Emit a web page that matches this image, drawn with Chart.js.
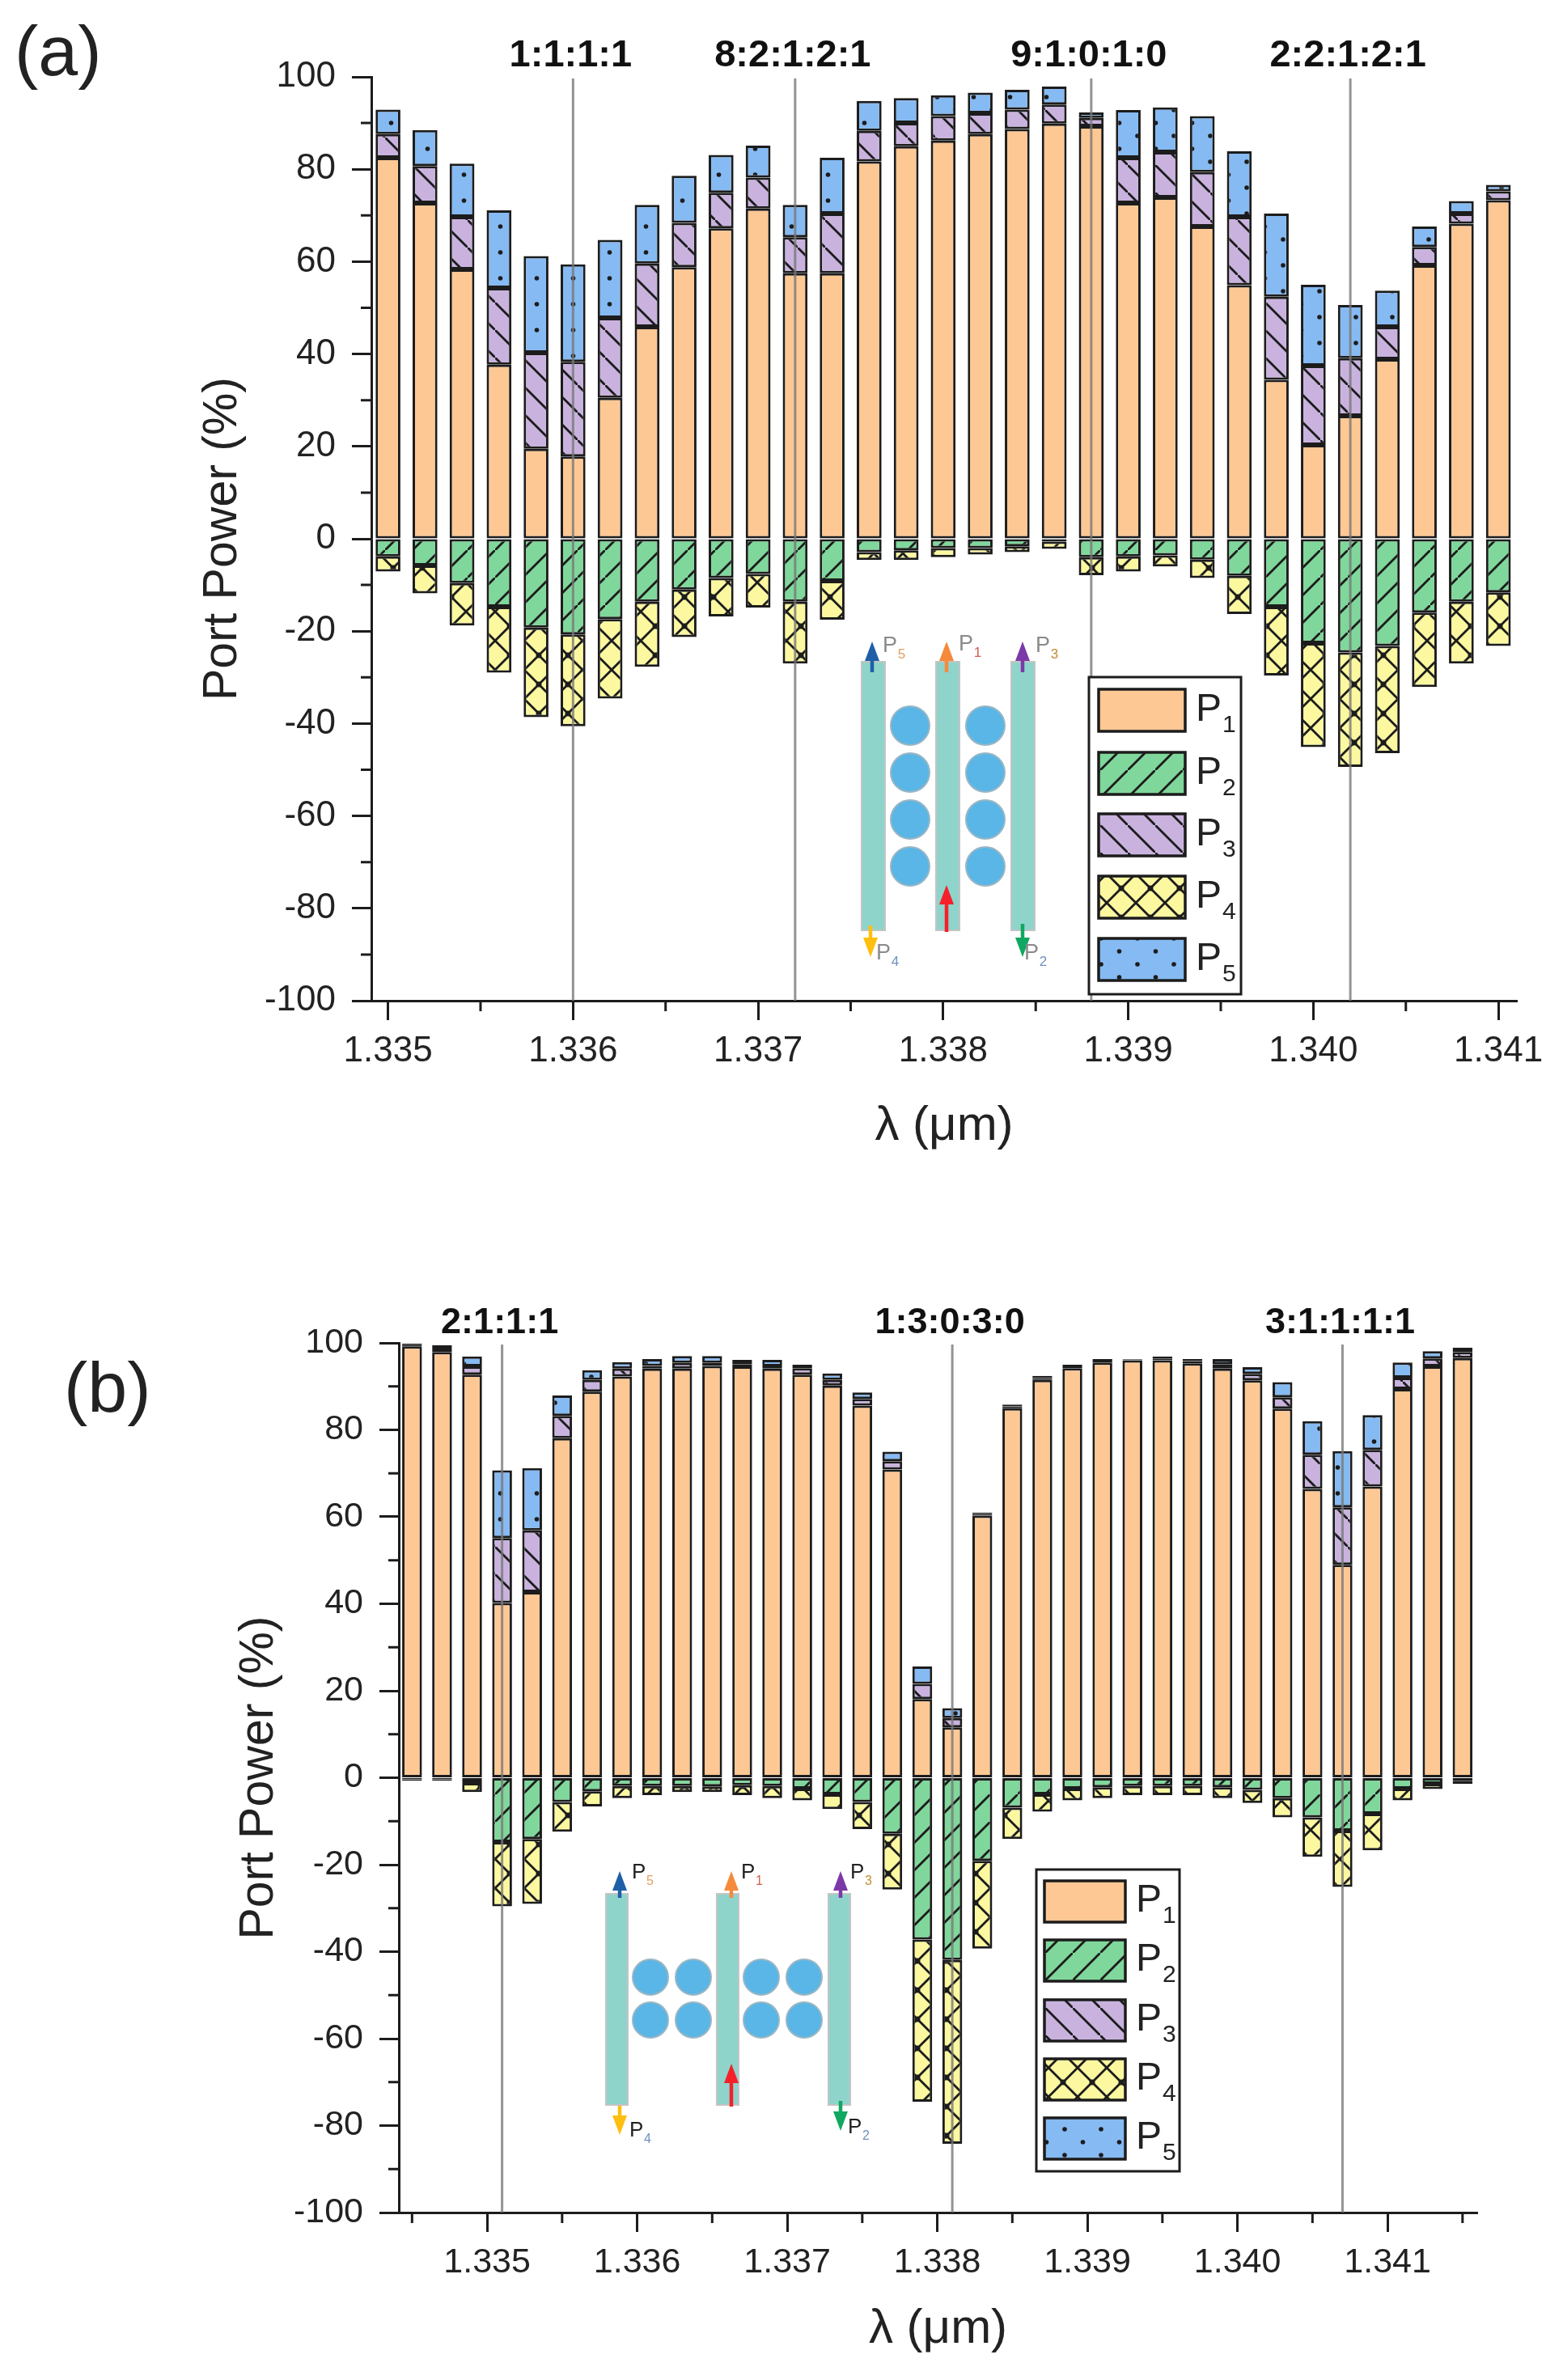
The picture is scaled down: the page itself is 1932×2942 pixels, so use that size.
<!DOCTYPE html>
<html>
<head>
<meta charset="utf-8">
<script src="https://cdn.jsdelivr.net/npm/chart.js@4"></script>
<style>
  html, body { margin: 0; padding: 0; background: #fff; }
  canvas { position: absolute; left: 0; }
</style>
</head>
<body>
<canvas id="chartA" width="1932" height="1470" style="top:0"></canvas>
<canvas id="chartB" width="1932" height="1472" style="top:1470px"></canvas>
<script>
// panel (a)
var wavelengthsA = [1.3350, 1.3352, 1.3354, 1.3356, 1.3358, 1.3360, 1.3362, 1.3364, 1.3366, 1.3368, 1.3370,
  1.3372, 1.3374, 1.3376, 1.3378, 1.3380, 1.3382, 1.3384, 1.3386, 1.3388, 1.3390,
  1.3392, 1.3394, 1.3396, 1.3398, 1.3400, 1.3402, 1.3404, 1.3406, 1.3408, 1.3410];
var p1A = [82.5, 72.7, 58.3, 37.7, 19.5, 17.8, 30.5, 45.9, 58.8, 67.2, 71.5, 57.5, 57.5, 81.7, 85, 86.2, 87.6, 88.7, 89.9, 89.3, 72.7, 73.9, 67.6, 54.9, 34.4, 20.3, 26.6, 38.9, 59.2, 68.2, 73.3];
var p2A = [-3.8, -5.8, -9.6, -14.7, -19.2, -20.7, -17.4, -13.6, -11, -8.5, -7.6, -13.6, -9.1, -2.9, -2.5, -2, -2, -1.6, -0.6, -4, -3.8, -3.6, -4.5, -8, -14.7, -22.6, -24.6, -23.2, -16, -13.6, -11.6];
var p3A = [5.1, 8, 11.4, 16.6, 20.8, 20.5, 17.3, 13.7, 9.6, 7.7, 6.7, 7.8, 12.9, 6.6, 5, 5.3, 4.5, 4.2, 4.1, 1.8, 9.8, 9.8, 11.8, 14.8, 18, 17.2, 12.5, 7, 4, 2.2, 1.9];
var p4A = [-3.3, -6, -9.2, -14.3, -19.4, -19.9, -17.2, -14.1, -10.3, -8.3, -7.3, -13.4, -8.4, -1.7, -2.1, -2, -1.4, -1.3, -1.6, -3.9, -3.3, -2.4, -4, -8.3, -14.9, -22.5, -24.8, -23.2, -16.1, -13.4, -11.6];
var p5A = [5.3, 7.8, 11.5, 16.8, 20.9, 21.1, 16.9, 12.7, 10.2, 8.2, 6.9, 7, 12.1, 6.5, 5.4, 4.5, 4.5, 4.3, 3.9, 1.2, 10.3, 9.7, 12.1, 14.2, 18, 17.5, 11.5, 7.8, 4.4, 2.7, 1.4];
var xTicksA = [1.335, 1.336, 1.337, 1.338, 1.339, 1.340, 1.341];
var xMinorA = [1.3355, 1.3365, 1.3375, 1.3385, 1.3395, 1.3405];
var markersA = [1.3360, 1.3372, 1.3388, 1.3402];
var markerLabelsA = ['1:1:1:1', '8:2:1:2:1', '9:1:0:1:0', '2:2:1:2:1'];

// panel (b)
var wavelengthsB = [1.3345, 1.3347, 1.3349, 1.3351, 1.3353, 1.3355, 1.3357, 1.3359, 1.3361, 1.3363, 1.3365, 1.3367,
  1.3369, 1.3371, 1.3373, 1.3375, 1.3377, 1.3379, 1.3381, 1.3383, 1.3385, 1.3387, 1.3389, 1.3391,
  1.3393, 1.3395, 1.3397, 1.3399, 1.3401, 1.3403, 1.3405, 1.3407, 1.3409, 1.3411, 1.3413, 1.3415];
var p1B = [99.2, 97.9, 92.7, 40.2, 42.7, 78.1, 88.8, 92.3, 94.1, 94.1, 94.7, 94.6, 94.1, 92.7, 90.2, 85.6, 70.9, 18.1, 11.6, 60.3, 85, 91.5, 94.2, 95.5, 96, 96, 95.3, 94.1, 91.4, 84.9, 66.4, 49, 67, 89.4, 94.6, 96.5];
var p2B = [-0.35, -0.35, -1.2, -14.8, -14.1, -5.6, -3.1, -1.9, -1.9, -1.9, -2, -1.7, -1.9, -2.5, -3.8, -5.6, -12.9, -37.2, -41.9, -19.1, -6.9, -3.8, -2.5, -2.2, -1.9, -1.9, -1.9, -2.2, -2.8, -4.7, -9.1, -12.2, -8.3, -2.5, -1.4, -0.7];
var p3B = [0.3, 0.8, 1.9, 14.9, 14.2, 5.1, 2.7, 1.8, 0.6, 1.3, 0.7, 0.5, 0.5, 1.5, 1.3, 1.5, 1.9, 3.5, 2.1, 0.35, 0.4, 0.4, 0.4, 0.4, 0.15, 0.4, 0.5, 1, 1.5, 2.6, 7.9, 13.2, 8.4, 2.6, 1.8, 1.4];
var p4B = [-0.35, -0.35, -2.1, -14.8, -14.9, -6.8, -3.5, -2.8, -2.1, -1.4, -1.3, -2.3, -2.8, -2.7, -3.4, -6.2, -12.8, -37.3, -42.3, -20.2, -7.2, -4, -2.7, -2.5, -2.1, -2.1, -2.1, -2.5, -3, -4.4, -9.1, -12.9, -8.4, -2.7, -1.2, -0.7];
var p5B = [0.3, 0.8, 2.3, 15.6, 14.3, 4.7, 2.2, 1.5, 1.6, 1.6, 1.6, 1, 1.5, 0.8, 1.5, 1.5, 2.2, 4, 2.3, 0.35, 0.4, 0.5, 0.4, 0.4, 0.15, 0.5, 0.5, 1.2, 1.5, 3.5, 7.7, 12.9, 8, 3.5, 1.7, 1];
var xTicksB = [1.335, 1.336, 1.337, 1.338, 1.339, 1.340, 1.341];
var xMinorB = [1.3345, 1.3355, 1.3365, 1.3375, 1.3385, 1.3395, 1.3405, 1.3415];
var markersB = [1.3351, 1.3381, 1.3407];
var markerLabelsB = ['2:1:1:1', '1:3:0:3:0', '3:1:1:1:1'];

var yTicks = [-100, -80, -60, -40, -20, 0, 20, 40, 60, 80, 100];
var yMinor = [-90, -70, -50, -30, -10, 10, 30, 50, 70, 90];
var seriesNames = ['P1', 'P2', 'P3', 'P4', 'P5'];

var INK = '#1c1c1c';
var FONT = '"Liberation Sans", Arial, sans-serif';

function tile(w, h, base, paint) {
  var c = document.createElement('canvas');
  c.width = w; c.height = h;
  var g = c.getContext('2d');
  g.fillStyle = base;
  g.fillRect(0, 0, w, h);
  g.strokeStyle = INK;
  g.fillStyle = INK;
  g.lineWidth = 2.8;
  if (paint) paint(g, w, h);
  return g.createPattern(c, 'repeat');
}
function rising(g, s) {
  g.beginPath();
  g.moveTo(-2, s + 2); g.lineTo(s + 2, -2);
  g.stroke();
}
function falling(g, s) {
  g.beginPath();
  g.moveTo(-2, -2); g.lineTo(s + 2, s + 2);
  g.stroke();
}
var fills = [
  '#fec894',
  tile(34, 34, '#80d79b', function (g, s) { rising(g, s); }),
  tile(34, 34, '#c9b3de', function (g, s) { falling(g, s); }),
  tile(36, 36, '#fcf8a0', function (g, s) {
    rising(g, s); falling(g, s);
    g.beginPath(); g.arc(s / 2, s / 2, 3.5, 0, 7); g.fill();
  }),
  tile(45, 32, '#86baf2', function (g) {
    g.beginPath(); g.arc(11, 8, 2.8, 0, 7); g.arc(33.5, 24, 2.8, 0, 7); g.fill();
  })
];

function subText(ctx, digit, x, y, size, subColor, inkColor) {
  ctx.textAlign = 'left';
  ctx.textBaseline = 'alphabetic';
  ctx.fillStyle = inkColor;
  ctx.font = size + 'px ' + FONT;
  ctx.fillText('P', x, y);
  ctx.fillStyle = subColor;
  ctx.font = Math.round(size * 0.62) + 'px ' + FONT;
  ctx.fillText(digit, x + size * 0.69, y + size * 0.3);
}

function arrow(ctx, x, from, to, color) {
  var dir = to < from ? 1 : -1;
  ctx.strokeStyle = color;
  ctx.fillStyle = color;
  ctx.lineWidth = 4.5;
  ctx.beginPath();
  ctx.moveTo(x, from);
  ctx.lineTo(x, to + dir * 18);
  ctx.stroke();
  ctx.beginPath();
  ctx.moveTo(x, to);
  ctx.lineTo(x - 9, to + dir * 24);
  ctx.lineTo(x + 9, to + dir * 24);
  ctx.closePath();
  ctx.fill();
}

function drawInset(ctx, inset) {
  inset.guides.forEach(function (g) {
    ctx.fillStyle = '#8ed4cb';
    ctx.strokeStyle = '#c4c4c4';
    ctx.lineWidth = 2;
    ctx.fillRect(g, inset.top, inset.guideW, inset.bottom - inset.top);
    ctx.strokeRect(g, inset.top, inset.guideW, inset.bottom - inset.top);
  });
  inset.ringX.forEach(function (cx) {
    inset.ringY.forEach(function (cy) {
      ctx.beginPath();
      ctx.arc(cx, cy, inset.r, 0, Math.PI * 2);
      ctx.fillStyle = '#59b6e6';
      ctx.fill();
      ctx.strokeStyle = '#9ab6c4';
      ctx.lineWidth = 2;
      ctx.stroke();
    });
  });
  inset.arrows.forEach(function (a) { arrow(ctx, a[0], a[1], a[2], a[3]); });
  inset.labels.forEach(function (l) {
    subText(ctx, l[0], l[1], l[2], inset.labelSize, l[3], inset.labelInk);
  });
}

function drawLegend(ctx, box, chart) {
  ctx.fillStyle = '#fff';
  ctx.strokeStyle = INK;
  ctx.lineWidth = 3;
  ctx.fillRect(box.x, box.y, box.w, box.h);
  ctx.strokeRect(box.x, box.y, box.w, box.h);
  chart.data.datasets.forEach(function (ds, i) {
    var top = box.rowY[i];
    ctx.fillStyle = ds.backgroundColor;
    ctx.fillRect(box.swX, top, box.swW, box.swH);
    ctx.strokeStyle = INK;
    ctx.lineWidth = 3.5;
    ctx.strokeRect(box.swX, top, box.swW, box.swH);
    subText(ctx, String(i + 1), box.textX, top + box.swH - 13, 48, '#222', '#222');
  });
}

function overlay(cfg) {
  return {
    id: 'overlay' + cfg.id,
    afterDatasetsDraw: function (chart) {
      var ctx = chart.ctx, x = chart.scales.x, y = chart.scales.y;
      var area = chart.chartArea;
      ctx.save();
      // minor ticks
      ctx.strokeStyle = INK;
      ctx.lineWidth = 3;
      ctx.beginPath();
      yMinor.forEach(function (v) {
        var py = y.getPixelForValue(v);
        ctx.moveTo(area.left - 13, py); ctx.lineTo(area.left, py);
      });
      cfg.xMinor.forEach(function (v) {
        var px = x.getPixelForValue(v);
        ctx.moveTo(px, area.bottom); ctx.lineTo(px, area.bottom + 13);
      });
      ctx.stroke();
      // resonance markers
      ctx.font = 'bold ' + cfg.markerSize + 'px ' + FONT;
      cfg.markers.forEach(function (v, i) {
        var px = x.getPixelForValue(v);
        ctx.strokeStyle = 'rgba(120,120,120,0.8)';
        ctx.lineWidth = 3;
        ctx.beginPath();
        ctx.moveTo(px, area.top + 2);
        ctx.lineTo(px, area.bottom);
        ctx.stroke();
        ctx.fillStyle = '#111';
        ctx.textAlign = 'center';
        ctx.textBaseline = 'alphabetic';
        ctx.fillText(cfg.markerLabels[i], px - 3, area.top - cfg.markerGap);
      });
      ctx.translate(0, -cfg.canvasTop);
      drawInset(ctx, cfg.inset);
      drawLegend(ctx, cfg.legend, chart);
      ctx.fillStyle = '#222';
      ctx.font = '88px ' + FONT;
      ctx.textAlign = 'left';
      ctx.textBaseline = 'alphabetic';
      ctx.fillText(cfg.panel, cfg.panelX, cfg.panelY);
      ctx.restore();
    }
  };
}

function buildChart(cfg) {
  var series = cfg.series;
  var chart = new Chart(document.getElementById(cfg.id), {
    type: 'bar',
    plugins: [overlay(cfg)],
    data: {
      datasets: series.map(function (values, i) {
        return {
          label: seriesNames[i],
          data: values.map(function (v, j) { return { x: cfg.wavelengths[j], y: v }; }),
          backgroundColor: fills[i],
          borderColor: INK,
          borderWidth: 3,
          borderSkipped: false,
          inflateAmount: 0,
          barPercentage: cfg.barPercentage,
          categoryPercentage: 1
        };
      })
    },
    options: {
      responsive: false,
      animation: false,
      devicePixelRatio: 1,
      layout: { padding: { left: 0, right: cfg.rightPad, top: cfg.plotTop, bottom: 0 } },
      plugins: { legend: { display: false }, tooltip: { enabled: false } },
      scales: {
        x: {
          type: 'linear',
          stacked: true,
          offset: false,
          min: cfg.xMin,
          max: cfg.xMax,
          afterBuildTicks: function (s) { s.ticks = cfg.xTicks.map(function (v) { return { value: v }; }); },
          afterFit: function (s) { s.height = cfg.xBoxH; },
          title: { display: true, text: 'λ (μm)', color: '#222', font: { size: 60 }, padding: { top: 0, bottom: cfg.xTitlePad } },
          ticks: {
            color: '#222', font: { size: cfg.tickSize }, padding: 12, autoSkip: false, maxRotation: 0,
            callback: function (v) { return Number(v).toFixed(3); }
          },
          border: { color: INK, width: 3 },
          grid: { offset: false, drawOnChartArea: false, tickLength: 24, tickWidth: 3, tickColor: INK }
        },
        y: {
          stacked: true,
          min: -100,
          max: 100,
          afterBuildTicks: function (s) { s.ticks = yTicks.map(function (v) { return { value: v }; }); },
          afterFit: function (s) { s.width = cfg.yBoxW; },
          title: { display: true, text: 'Port Power (%)', color: '#222', font: { size: 59 }, padding: { top: cfg.yTitlePad, bottom: 0 } },
          ticks: {
            color: '#222', font: { size: cfg.tickSize }, padding: 20,
            callback: function (v) { return String(v); }
          },
          border: { color: INK, width: 3 },
          grid: { drawOnChartArea: false, tickLength: 24, tickWidth: 3, tickColor: INK }
        }
      }
    }
  });
  return chart;
}

window.onload = function () {
  Chart.defaults.font.family = FONT;

  buildChart({
    id: 'chartA', canvasTop: 0, panel: '(a)', panelX: 18, panelY: 93,
    wavelengths: wavelengthsA, series: [p1A, p2A, p3A, p4A, p5A],
    xTicks: xTicksA, xMinor: xMinorA, xMin: 1.33491, xMax: 1.3411,
    markers: markersA, markerLabels: markerLabelsA, markerSize: 47, markerGap: 13,
    barPercentage: 0.67, tickSize: 44,
    plotTop: 95, rightPad: 57, yBoxW: 459, xBoxH: 233, xTitlePad: 42, yTitlePad: 240,
    inset: {
      top: 818, bottom: 1150, guideW: 29, guides: [1065, 1157, 1250],
      ringX: [1125, 1218], ringY: [897, 955, 1013, 1071], r: 24,
      arrows: [
        [1078, 831, 793, '#1f5fa8'], [1170, 831, 793, '#f58a3c'], [1264, 831, 793, '#7b39a8'],
        [1076, 1144, 1183, '#ffbf10'], [1264, 1142, 1183, '#10a860'], [1170, 1152, 1094, '#f5202a']
      ],
      labelSize: 27, labelInk: '#8a8a8a',
      labels: [
        ['5', 1091, 806, '#e0a060'], ['1', 1185, 804, '#d06050'], ['3', 1280, 806, '#c09030'],
        ['4', 1083, 1186, '#7090c0'], ['2', 1266, 1186, '#7090c0']
      ]
    },
    legend: {
      x: 1346, y: 837, w: 188, h: 392, swX: 1358, swW: 107, swH: 52,
      rowY: [852, 930, 1006, 1083, 1160], textX: 1478
    }
  });

  buildChart({
    id: 'chartB', canvasTop: 1470, panel: '(b)', panelX: 79, panelY: 1745,
    wavelengths: wavelengthsB, series: [p1B, p2B, p3B, p4B, p5B],
    xTicks: xTicksB, xMinor: xMinorB, xMin: 1.334412, xMax: 1.341598,
    markers: markersB, markerLabels: markerLabelsB, markerSize: 45, markerGap: 12,
    barPercentage: 0.66, tickSize: 43,
    plotTop: 190, rightPad: 106, yBoxW: 493, xBoxH: 207, xTitlePad: 27, yTitlePad: 285,
    inset: {
      top: 2341, bottom: 2602, guideW: 27, guides: [749, 886, 1024],
      ringX: [804, 857, 941, 994], ringY: [2444, 2497], r: 22,
      arrows: [
        [766, 2346, 2313, '#1f5fa8'], [904, 2346, 2313, '#f58a3c'], [1039, 2346, 2313, '#7b39a8'],
        [766, 2603, 2639, '#ffbf10'], [1039, 2597, 2634, '#10a860'], [904, 2604, 2551, '#f5202a']
      ],
      labelSize: 26, labelInk: '#222',
      labels: [
        ['5', 781, 2322, '#e0a060'], ['1', 916, 2322, '#d06050'], ['3', 1051, 2322, '#c09030'],
        ['4', 778, 2641, '#7090c0'], ['2', 1048, 2637, '#7090c0']
      ]
    },
    legend: {
      x: 1281, y: 2311, w: 177, h: 373, swX: 1291, swW: 100, swH: 51,
      rowY: [2325, 2398, 2472, 2545, 2618], textX: 1404
    }
  });
};
</script>
</body>
</html>
